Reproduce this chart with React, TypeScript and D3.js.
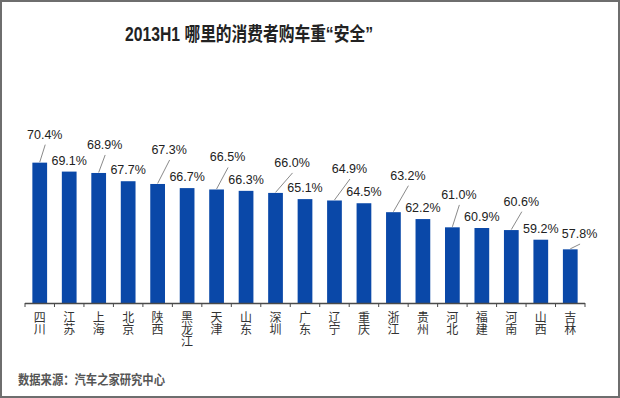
import React from "react";
import * as d3 from "d3";

const categories = ["四川", "江苏", "上海", "北京", "陕西", "黑龙江", "天津", "山东", "深圳", "广东", "辽宁", "重庆", "浙江", "贵州", "河北", "福建", "河南", "山西", "吉林"];
const values = [70.4, 69.1, 68.9, 67.7, 67.3, 66.7, 66.5, 66.3, 66.0, 65.1, 64.9, 64.5, 63.2, 62.2, 61.0, 60.9, 60.6, 59.2, 57.8];
const title = "2013H1 哪里的消费者购车重“安全”";
const source = "数据来源：汽车之家研究中心";

// label nudges (dx, dy) relative to bar center / bar top; leader lines drawn when raised
const labelNudge: ([number, number] | null)[] = [
  [5, -24], null, [6, -24], null, [11.5, -30], null, [11, -28], null, [16.5, -26], null,
  [15, -27.5], null, [14.5, -32.5], null, [6.5, -28.4], null, [10, -24.4], null, [9.3, -11.3],
];

const W = 620;
const H = 398;
const FONT = "'Liberation Sans', Arial, 'Noto Sans CJK SC', sans-serif";
const CJK = "'Noto Sans CJK SC', 'Liberation Sans', sans-serif";

export default function App() {
  const x = d3.scaleBand<string>().domain(categories).range([25, 585]).paddingInner(0.5).paddingOuter(0.25);
  const y = d3.scaleLinear().domain([50, 75]).range([303, 303 - 25 * 6.88]);
  const step = x.step();
  const ticks = d3.range(categories.length + 1).map((i) => 25 + i * step);

  return (
    <svg width={W} height={H} style={{ position: "absolute", left: 0, top: 0, background: "#fff" }}>
      <rect x={1} y={1} width={W - 2} height={H - 2} fill="#fff" stroke="#6e6e6e" strokeWidth={2} />
      <text x={249} y={40.5} textAnchor="middle" fontFamily={FONT} fontWeight="bold" fontSize={19.5} fill="#222"
        textLength={248} lengthAdjust="spacingAndGlyphs">{title}</text>

      {categories.map((c, i) => {
        const bx = x(c)!;
        const top = y(values[i]);
        return (
          <rect key={c} x={bx} y={top} width={x.bandwidth()} height={y(50) - top} fill="#0a48a8" />
        );
      })}

      {categories.map((c, i) => {
        const cx = x(c)! + x.bandwidth() / 2;
        const top = y(values[i]);
        const n = labelNudge[i];
        const dx = n ? n[0] : 0;
        const dy = n ? n[1] : -7;
        const lx = cx + dx;
        const ly = top + dy;
        return (
          <g key={"l" + c}>
            {n && <line x1={cx} y1={top - 0.5} x2={lx + 0.5} y2={ly + 6} stroke="#8a8a8a" strokeWidth={1} />}
            <text x={lx} y={ly} textAnchor="middle" fontFamily={FONT} fontSize={12.5} fill="#222">
              {values[i].toFixed(1) + "%"}
            </text>
          </g>
        );
      })}

      <line x1={25} x2={585} y1={303.5} y2={303.5} stroke="#4a4a4a" strokeWidth={1.6} />
      {ticks.map((t, i) => (
        <line key={"t" + i} x1={t} x2={t} y1={303} y2={307} stroke="#4a4a4a" strokeWidth={1} />
      ))}

      {categories.map((c) => {
        const cx = x(c)! + x.bandwidth() / 2;
        return (
          <text key={"c" + c} textAnchor="middle" fontFamily={CJK} fontSize={12} fill="#333">
            {Array.from(c).map((ch, k) => (
              <tspan key={k} x={cx} y={322 + k * 12}>{ch}</tspan>
            ))}
          </text>
        );
      })}

      <text x={18} y={384} fontFamily={CJK} fontWeight="bold" fontSize={13} fill="#555"
        textLength={147} lengthAdjust="spacingAndGlyphs">{source}</text>
    </svg>
  );
}
